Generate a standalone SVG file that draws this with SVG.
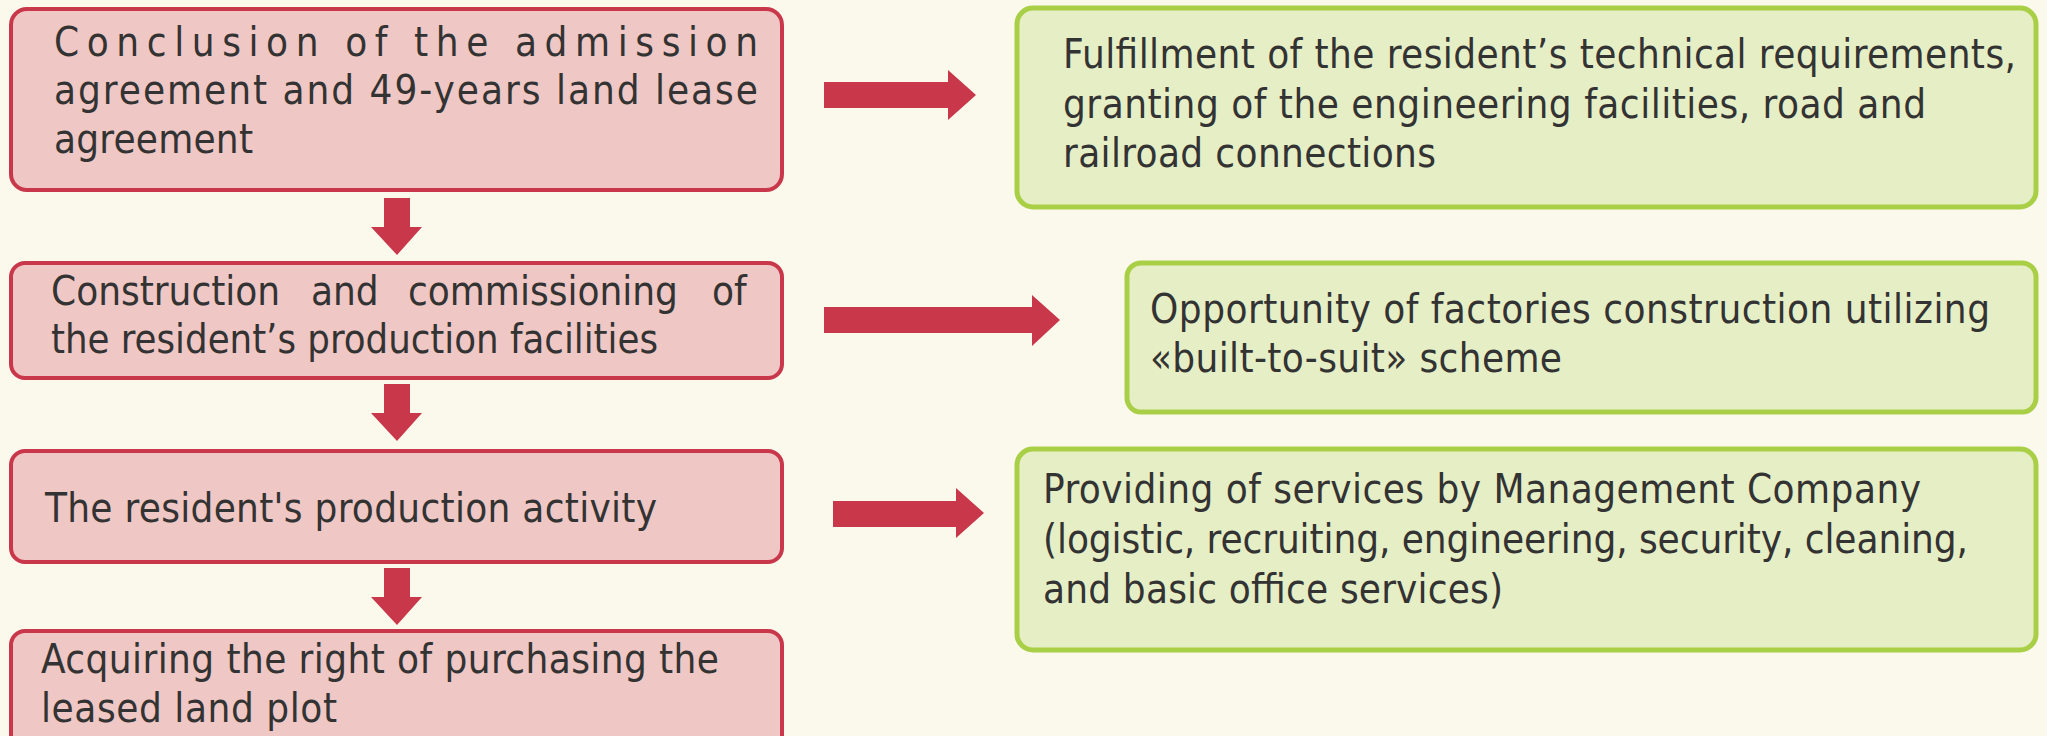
<svg xmlns="http://www.w3.org/2000/svg" width="2047" height="736" viewBox="0 0 2047 736">
<style>
.bg{fill:#FBF8EC}
.red{fill:#EFC7C4;stroke:#C8374A;stroke-width:4}
.green{fill:#E6EEC6;stroke:#A9CF46;stroke-width:5}
.arr{fill:#C8374A}
text{font-family:"DejaVu Sans Condensed","DejaVu Sans",sans-serif;font-stretch:condensed;font-size:40px;fill:#333333}
</style>
<rect class="bg" x="0" y="0" width="2047" height="736"/>
<g id="n1">
<rect class="red" x="11" y="9" width="771" height="181" rx="16"/>
<text x="54" y="56" textLength="704" lengthAdjust="spacing">Conclusion of the admission</text>
<text x="54" y="104" textLength="704" lengthAdjust="spacing">agreement and 49-years land lease</text>
<text x="54" y="153" textLength="199" lengthAdjust="spacing">agreement</text>
</g>
<g id="n2">
<rect class="red" x="11" y="263" width="771" height="115" rx="14"/>
<text y="305"><tspan x="51">Construction</tspan><tspan x="311">and</tspan><tspan x="408">commissioning</tspan><tspan x="712">of</tspan></text>
<text x="51" y="353" textLength="607" lengthAdjust="spacingAndGlyphs">the resident’s production facilities</text>
</g>
<g id="n3">
<rect class="red" x="11" y="451" width="771" height="111" rx="14"/>
<text x="45" y="522" textLength="612" lengthAdjust="spacing">The resident's production activity</text>
</g>
<g id="n4">
<rect class="red" x="11" y="631" width="771" height="120" rx="14"/>
<text x="41" y="673" textLength="678" lengthAdjust="spacing">Acquiring the right of purchasing the</text>
<text x="41" y="722" textLength="296" lengthAdjust="spacing">leased land plot</text>
</g>
<g id="g1">
<rect class="green" x="1017" y="8" width="1019" height="199" rx="16"/>
<text x="1063" y="68" textLength="953" lengthAdjust="spacing">Fulfillment of the resident’s technical requirements,</text>
<text x="1063" y="118" textLength="863" lengthAdjust="spacing">granting of the engineering facilities, road and</text>
<text x="1063" y="167" textLength="373" lengthAdjust="spacing">railroad connections</text>
</g>
<g id="g2">
<rect class="green" x="1127" y="263" width="909" height="149" rx="14"/>
<text x="1150" y="323" textLength="840" lengthAdjust="spacing">Opportunity of factories construction utilizing</text>
<text x="1150" y="372" textLength="412" lengthAdjust="spacing">«built-to-suit» scheme</text>
</g>
<g id="g3">
<rect class="green" x="1017" y="449" width="1019" height="201" rx="16"/>
<text x="1043" y="503" textLength="878" lengthAdjust="spacing">Providing of services by Management Company</text>
<text x="1043" y="553" textLength="925" lengthAdjust="spacing">(logistic, recruiting, engineering, security, cleaning,</text>
<text x="1043" y="603" textLength="460" lengthAdjust="spacing">and basic office services)</text>
</g>
<g id="connectors">
<polygon class="arr" points="384,198 410,198 410,227 422,227 397,255 371,227 384,227"/>
<polygon class="arr" points="384,384 410,384 410,413 422,413 397,441 371,413 384,413"/>
<polygon class="arr" points="384,568 410,568 410,597 422,597 397,625 371,597 384,597"/>
<polygon class="arr" points="824,82 948,82 948,70 976,95 948,120 948,108 824,108"/>
<polygon class="arr" points="824,307 1032,307 1032,295 1060,320 1032,346 1032,333 824,333"/>
<polygon class="arr" points="833,501 956,501 956,488 984,513 956,538 956,527 833,527"/>
</g>
</svg>
